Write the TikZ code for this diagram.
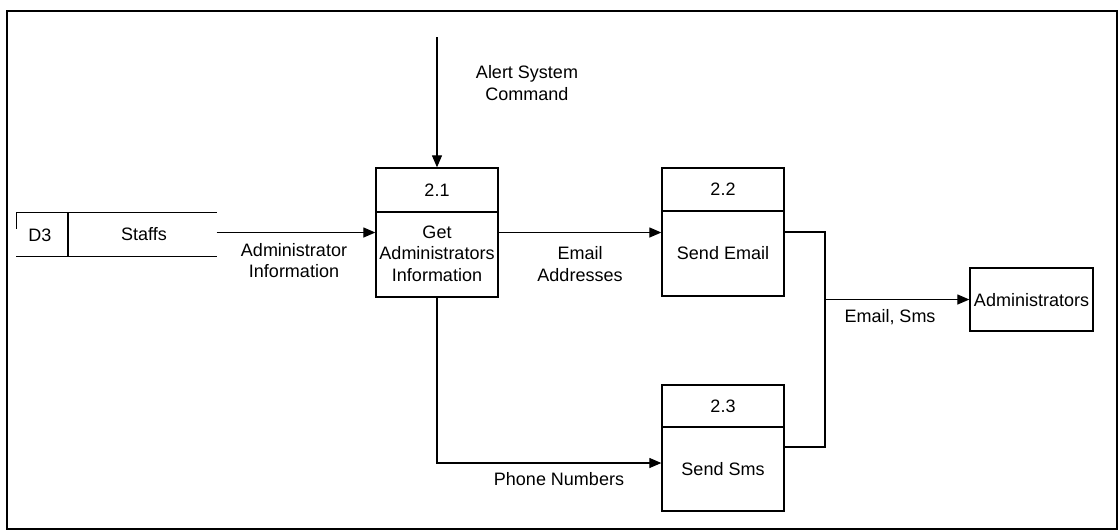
\documentclass[tikz,border=0pt]{standalone}
\usepackage{fontspec}
\setmainfont{Liberation Sans}
\usetikzlibrary{arrows.meta}
\begin{document}
\begin{tikzpicture}[x=1pt,y=-1pt,
  line width=1.2pt,
  flow/.style={-{Triangle[length=12pt,width=10pt]}},
  lbl/.style={font=\fontsize{18}{21.5}\selectfont, align=center, inner sep=0pt},
  proc/.style={draw, line width=1.3pt, minimum width=122pt, inner sep=0pt},
  frame/.style={draw, line width=2.5pt}]
\useasboundingbox (0,0) rectangle (1119,531);
\draw[frame] (7,11) rectangle (1117,529);

% data store D3
\node[minimum width=199pt, minimum height=43pt, inner sep=0pt] (store) at (116.5,234.5) {};
\draw (store.north west) -- (store.north east);
\draw (store.south west) -- (store.south east);
\draw (store.north west) -- ++(0,17);
\draw (store.north west -| 68,0) -- (store.south west -| 68,0);
\node[lbl] (d3) at (40,235) {D3};
\node[lbl] (staffs) at (144,234) {Staffs};

% process 2.1
\node[proc, minimum height=129pt] (p1) at (437,232.5) {};
\draw[line width=1.3pt] (p1.west |- 0,212) -- (p1.east |- 0,212);
\node[lbl] (p1h) at (437,190) {2.1};
\node[lbl] (p1b) at (437,253.5) {Get\\Administrators\\Information};

% process 2.2
\node[proc, minimum height=128pt] (p2) at (723,232) {};
\draw[line width=1.3pt] (p2.west |- 0,211) -- (p2.east |- 0,211);
\node[lbl] (p2h) at (723,189) {2.2};
\node[lbl] (p2b) at (723,253) {Send Email};

% process 2.3
\node[proc, minimum height=126pt] (p3) at (723,448) {};
\draw[line width=1.3pt] (p3.west |- 0,427) -- (p3.east |- 0,427);
\node[lbl] (p3h) at (723,406) {2.3};
\node[lbl] (p3b) at (723,469) {Send Sms};

% external entity
\node[proc, minimum width=123pt, minimum height=63pt] (adm) at (1031.5,299.5) {};
\node[lbl] (admt) at (1031.5,300) {Administrators};

% connectors
\coordinate (top) at (437,37);
\draw[flow] (top) -- (p1.north);
\node[lbl] (alert) at (527,83) {Alert System\\Command};

\draw[flow] (store.east |- p1) -- (p1.west);
\node[lbl] (adminfo) at (294,260.5) {Administrator\\Information};

\draw[flow] (p1.east) -- (p1.east -| p2.west);
\node[lbl] (emailaddr) at (580,264) {Email\\Addresses};

\coordinate (p3in) at (p3.west |- 0,463);
\draw[flow] (p1.south) |- (p3in);
\node[lbl] (phone) at (559,479) {Phone Numbers};

\coordinate (jb) at (825,447);
\coordinate (p3out) at (p3.east |- jb);
\draw (p2.east) -| (jb) -- (p3out);
\draw[flow] (jb |- adm) -- (adm.west);
\node[lbl] (emailsms) at (890,317) {Email, Sms};
\end{tikzpicture}
\end{document}
